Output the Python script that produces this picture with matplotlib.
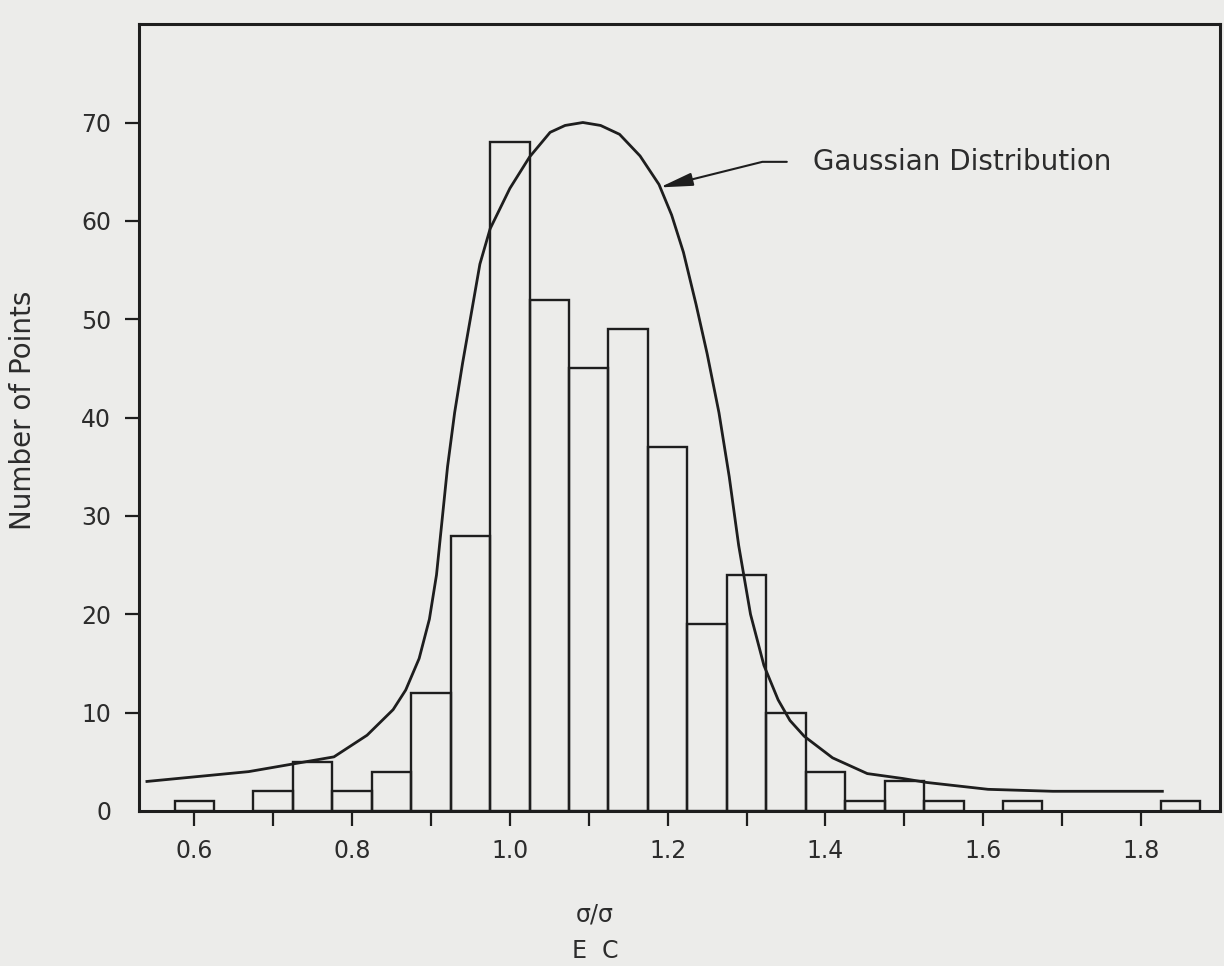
import matplotlib
matplotlib.use('Agg')
import matplotlib.pyplot as plt

# histogram of sigma_E / sigma_C, bins of width 0.05
bin_centers = [0.60, 0.65, 0.70, 0.75, 0.80, 0.85, 0.90, 0.95, 1.00, 1.05, 1.10,
               1.15, 1.20, 1.25, 1.30, 1.35, 1.40, 1.45, 1.50, 1.55, 1.60, 1.65,
               1.70, 1.75, 1.80, 1.85]
counts = [1, 0, 2, 5, 2, 4, 12, 28, 68, 52, 45,
          49, 37, 19, 24, 10, 4, 1, 3, 1, 0, 1,
          0, 0, 0, 1]

# fitted curve
curve_x = [0.540, 0.669, 0.777, 0.819, 0.852, 0.868, 0.885, 0.898, 0.907, 0.914,
           0.921, 0.930, 0.940, 0.952, 0.962, 0.975, 1.000, 1.025, 1.051, 1.070,
           1.0925, 1.115, 1.139, 1.165, 1.189, 1.205, 1.220, 1.236, 1.250, 1.265,
           1.278, 1.290, 1.305, 1.322, 1.340, 1.355, 1.373, 1.409, 1.453, 1.498,
           1.528, 1.606, 1.688, 1.827]
curve_y = [3.0, 4.0, 5.5, 7.7, 10.3, 12.3, 15.5, 19.5, 24.0, 29.5,
           35.0, 40.5, 45.5, 51.0, 55.6, 59.2, 63.3, 66.5, 69.0, 69.7,
           70.0, 69.7, 68.8, 66.6, 63.7, 60.6, 56.8, 51.5, 46.5, 40.5,
           34.0, 27.0, 20.0, 14.8, 11.3, 9.2, 7.6, 5.4, 3.8, 3.3,
           2.9, 2.2, 2.0, 2.0]

x_ticks = [0.6, 0.7, 0.8, 0.9, 1.0, 1.1, 1.2, 1.3, 1.4, 1.5, 1.6, 1.7, 1.8]
x_labels = ['0.6', '', '0.8', '', '1.0', '', '1.2', '', '1.4', '', '1.6', '', '1.8']
y_ticks = [0, 10, 20, 30, 40, 50, 60, 70]

paper = '#ececea'
ink = '#1e1e1e'
text_c = '#2c2c2c'

fig = plt.figure(figsize=(12.24, 9.66), dpi=100, facecolor=paper)
ax = fig.add_axes([0.1136, 0.1605, 0.8831, 0.8145], facecolor=paper)

xs = [c for c, n in zip(bin_centers, counts) if n > 0]
ns = [n for n in counts if n > 0]
ax.bar(xs, ns, width=0.05, fill=False, edgecolor=ink, linewidth=1.7)

ax.plot(curve_x, curve_y, color=ink, linewidth=2.0, solid_joinstyle='round')

ax.set_xlim(0.53, 1.90)
ax.set_ylim(0, 80)
ax.set_xticks(x_ticks)
ax.set_xticklabels(x_labels)
ax.set_yticks(y_ticks)
ax.tick_params(axis='x', direction='out', length=11, width=1.6, pad=9,
               labelsize=17, colors=ink, labelcolor=text_c)
ax.tick_params(axis='y', direction='out', length=10, width=1.6, pad=10,
               labelsize=17, colors=ink, labelcolor=text_c)
ax.yaxis.get_major_ticks()[0].tick1line.set_visible(False)
for s in ax.spines.values():
    s.set_linewidth(2.2)
    s.set_color(ink)

ax.annotate('', xy=(1.19, 63.4), xytext=(1.351, 66.0),
            arrowprops=dict(arrowstyle='-|>,head_length=1.0,head_width=0.2',
                            connectionstyle='angle,angleA=0,angleB=14,rad=0',
                            color=ink, linewidth=1.5, mutation_scale=20,
                            shrinkA=0, shrinkB=0))
ax.text(1.384, 66.0, 'Gaussian Distribution', fontsize=20, color=text_c,
        ha='left', va='center')

fig.text(23 / 1224, 1 - 410 / 966, 'Number of Points', rotation=90,
         fontsize=20, color=text_c, ha='center', va='center')
fig.text(595 / 1224, 1 - 915 / 966, 'σ/σ', fontsize=17, color=text_c,
         ha='center', va='center')
fig.text(595 / 1224, 1 - 951 / 966, 'E  C', fontsize=17, color=text_c,
         ha='center', va='center')

fig.savefig('out.png', dpi=100, facecolor=paper)
